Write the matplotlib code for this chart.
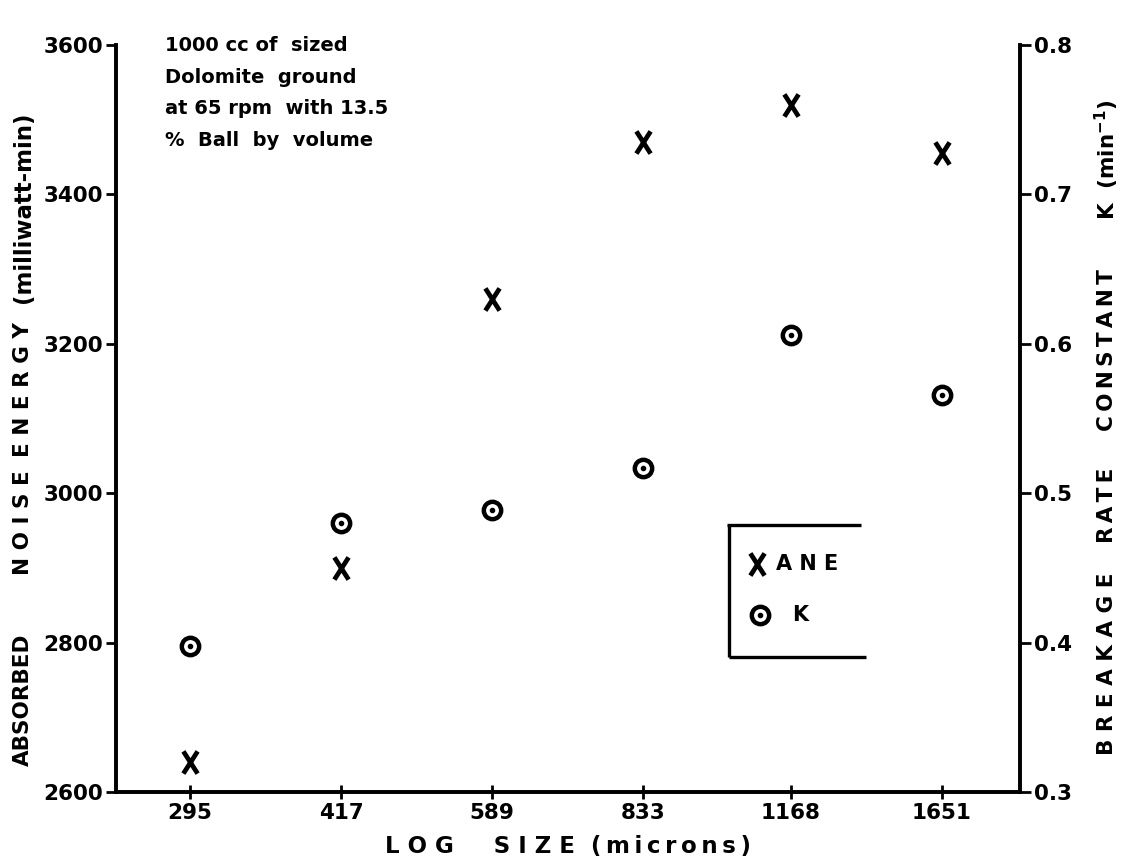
import numpy as np
import matplotlib.pyplot as plt
from matplotlib.path import Path
from matplotlib.ticker import FixedLocator, FixedFormatter, NullLocator

# -------- data --------
sizes = [295, 417, 589, 833, 1168, 1651]          # sieve size (microns)
ane = [2640, 2900, 3260, 3470, 3520, 3455]         # absorbed noise energy (mW-min)
k_rate = [0.398, 0.480, 0.489, 0.517, 0.606, 0.566]  # breakage rate constant K (1/min)

left_ticks = [2600, 2800, 3000, 3200, 3400, 3600]
right_ticks = [0.3, 0.4, 0.5, 0.6, 0.7, 0.8]
right_labels = ["0.3", "0.4", "0.5", "0.6", "0.7", "0.8"]

note_lines = [
    "1000 cc of  sized",
    "Dolomite  ground",
    "at 65 rpm  with 13.5",
    "%  Ball  by  volume",
]
# ----------------------

plt.rcParams["font.family"] = ["DejaVu Sans"]
plt.rcParams["font.weight"] = "bold"

SPINE_W = 2.6
TS = "\u2009"  # thin space for letter-spaced captions

# tall narrow cross, like the hand lettered X on the sheet
X_MARK = Path([(-0.32, -0.5), (0.32, 0.5), (-0.32, 0.5), (0.32, -0.5)],
              [Path.MOVETO, Path.LINETO, Path.MOVETO, Path.LINETO])
x_style = dict(linestyle="none", marker=X_MARK, markersize=16,
               markeredgewidth=3.4, color="black")
ring_style = dict(linestyle="none", marker="o", markersize=12.5,
                  markerfacecolor="white", markeredgecolor="black",
                  markeredgewidth=3.2)
dot_style = dict(linestyle="none", marker="o", markersize=3, color="black")


def spaced(word, sep=TS):
    return sep.join(word)


fig = plt.figure(figsize=(11.24, 8.63), dpi=100)
ax = fig.add_axes([0.1032, 0.0823, 0.8043, 0.8656])
ax2 = ax.twinx()

for a in (ax, ax2):
    a.spines["top"].set_visible(False)
    for s in ("left", "right", "bottom"):
        a.spines[s].set_linewidth(SPINE_W)

# x axis: log size
ax.set_xscale("log")
ax.set_xlim(249, 1976)
ax.xaxis.set_major_locator(FixedLocator(sizes))
ax.xaxis.set_major_formatter(FixedFormatter([str(s) for s in sizes]))
ax.xaxis.set_minor_locator(NullLocator())
ax.tick_params(axis="x", direction="inout", length=10, width=2,
               labelsize=15.5, pad=3)

# left axis: ANE
ax.set_ylim(2600, 3600)
ax.yaxis.set_major_locator(FixedLocator(left_ticks))
ax.tick_params(axis="y", direction="out", length=7, width=2,
               labelsize=15.5, pad=2)

# right axis: K
ax2.set_ylim(0.3, 0.8)
ax2.yaxis.set_major_locator(FixedLocator(right_ticks))
ax2.yaxis.set_major_formatter(FixedFormatter(right_labels))
ax2.tick_params(axis="y", direction="out", length=8, width=2,
                labelsize=15.5, pad=2)

ax.plot(sizes, ane, **x_style)
ax2.plot(sizes, k_rate, **ring_style)
ax2.plot(sizes, k_rate, **dot_style)

# x caption
fig.text(0.505, 0.006, "L O G     S I Z E  " + spaced("(microns)"),
         ha="center", va="bottom", fontsize=16.5, fontweight="bold")

# left caption, word by word
lab = dict(rotation=90, ha="center", va="center", fontweight="bold")
fig.text(0.0205, 1 - 700 / 863, "ABSORBED", fontsize=15.5, **lab)
fig.text(0.0205, 1 - 523 / 863, "N O I S E", fontsize=15.5, **lab)
fig.text(0.0205, 1 - 390 / 863, "E N E R G Y", fontsize=15.5, **lab)
fig.text(0.0205, 1 - 207 / 863, "(milliwatt-min)", fontsize=16.5, **lab)

# right caption, word by word
fig.text(0.985, 1 - 664 / 863, "B R E A K A G E", fontsize=15.5, **lab)
fig.text(0.985, 1 - 505 / 863, spaced("RATE"), fontsize=15.5, **lab)
fig.text(0.985, 1 - 350 / 863, spaced("CONSTANT"), fontsize=15.5, **lab)
fig.text(0.985, 1 - 160 / 863, r"K  (min$^{\mathbf{-1}}$)", fontsize=15.5,
         **lab)

# operating conditions
for i, line in enumerate(note_lines):
    ax.text(0.054, 1.012 - i * 0.0425, line, transform=ax.transAxes,
            ha="left", va="top", fontsize=14, fontweight="bold")

# open-sided key box
kw = dict(transform=ax.transAxes, color="black", linewidth=2.4,
          solid_capstyle="butt", clip_on=False)
ax.plot([0.676, 0.824], [0.357, 0.357], **kw)
ax.plot([0.678, 0.678], [0.357, 0.181], **kw)
ax.plot([0.678, 0.830], [0.181, 0.181], **kw)

ax.plot([0.709], [0.305], transform=ax.transAxes, **x_style)
ax.text(0.730, 0.305, "A N E", transform=ax.transAxes, ha="left",
        va="center", fontsize=15, fontweight="bold")
ax.plot([0.712], [0.237], transform=ax.transAxes, **ring_style)
ax.plot([0.712], [0.237], transform=ax.transAxes, **dot_style)
ax.text(0.757, 0.237, "K", transform=ax.transAxes, ha="center",
        va="center", fontsize=15, fontweight="bold")

fig.savefig("out.png", dpi=100)
